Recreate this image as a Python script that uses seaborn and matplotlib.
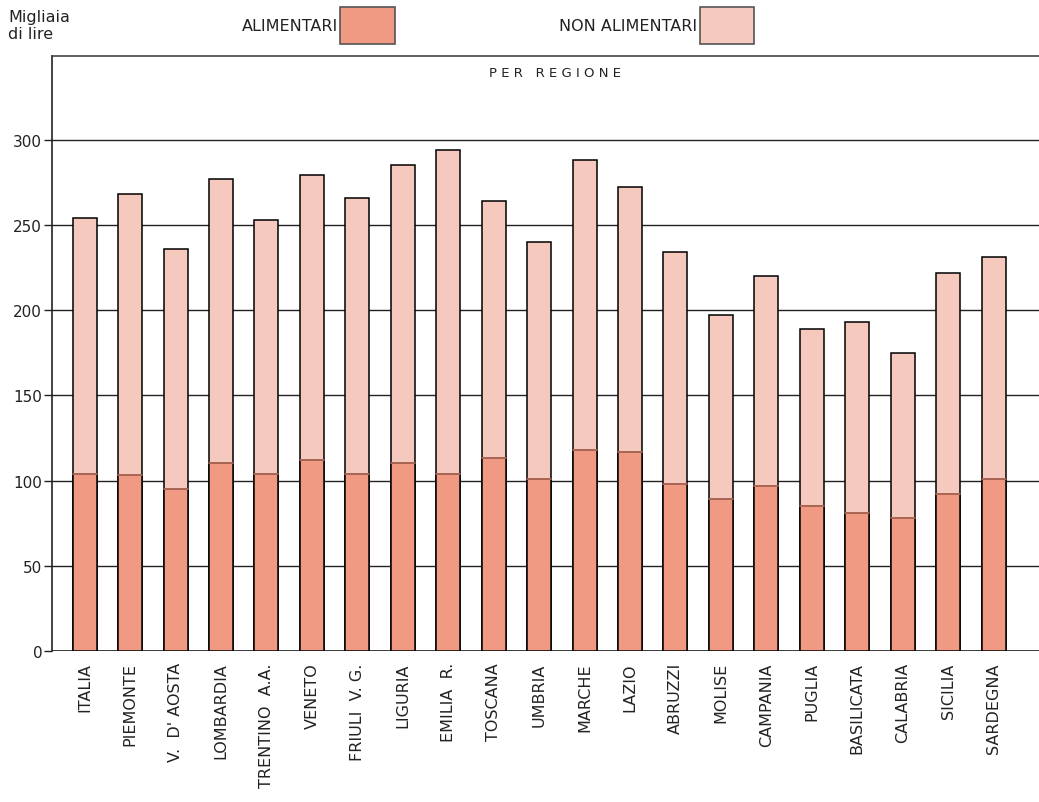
import pandas as pd
import matplotlib
matplotlib.use("Agg")
import matplotlib.pyplot as plt
import seaborn as sns
from matplotlib.patches import Patch

# ==============================================================================
# DATI
# ==============================================================================
regioni = [
    "ITALIA", "PIEMONTE", "V.  D' AOSTA", "LOMBARDIA", "TRENTINO  A.A.",
    "VENETO", "FRIULI  V. G.", "LIGURIA", "EMILIA  R.", "TOSCANA", "UMBRIA",
    "MARCHE", "LAZIO", "ABRUZZI", "MOLISE", "CAMPANIA", "PUGLIA",
    "BASILICATA", "CALABRIA", "SICILIA", "SARDEGNA",
]
totale = [254, 268, 236, 277, 253, 279, 266, 285, 294, 264, 240,
          288, 272, 234, 197, 220, 189, 193, 175, 222, 231]
alimentari = [104, 103, 95, 110, 104, 112, 104, 110, 104, 113, 101,
              118, 117, 98, 89, 97, 85, 81, 78, 92, 101]
y_ticks = [0, 50, 100, 150, 200, 250, 300]

COL_ALIM = "#F09A84"
COL_NON = "#F6C9BE"

# ==============================================================================
# GRAFICO
# ==============================================================================
sns.set_theme(style="white")
plt.rcParams["font.family"] = ["DejaVu Sans"]

df = pd.DataFrame({"Regione": regioni, "Totale": totale, "Alimentari": alimentari})

fig = plt.figure(figsize=(10.39, 8.03), dpi=100)
ax = fig.add_axes([0.05, 0.188, 0.95, 0.741])

# barra intera (non alimentari sopra) e poi la parte alimentare
sns.barplot(data=df, x="Regione", y="Totale", color=COL_NON, width=0.53,
            edgecolor="black", linewidth=1.1, saturation=1, ax=ax)
sns.barplot(data=df, x="Regione", y="Alimentari", color=COL_ALIM, width=0.53,
            edgecolor="black", linewidth=1.1, saturation=1, ax=ax)
# linea di separazione più morbida tra le due parti
for p in ax.patches[len(regioni):]:
    ax.plot([p.get_x(), p.get_x() + p.get_width()], [p.get_height()] * 2,
            color="#C0735F", lw=1.2, zorder=5)

ax.set_xlim(-0.72, 21.0)
ax.set_ylim(0, 349)
ax.set_yticks(y_ticks)
ax.set_axisbelow(True)
ax.yaxis.grid(True, color="#222222", linewidth=1.0)
ax.xaxis.grid(False)

for s in ["right", "bottom"]:
    ax.spines[s].set_visible(False)
ax.spines["left"].set_color("#222222")
ax.spines["top"].set_color("#444444")
ax.spines["left"].set_linewidth(1.2)
ax.spines["top"].set_linewidth(1.2)
ax.axhline(0, color="#222222", lw=1.2, zorder=0)

ax.tick_params(axis="y", length=6, width=1, color="#222222", pad=1,
               labelsize=11, direction="out", left=True)
ax.tick_params(axis="x", length=0, labelsize=11.5, pad=8)
ax.set_xticks(range(len(regioni)))
ax.set_xticklabels(regioni, rotation=90, va="top", ha="center", color="#222222")
for lbl in ax.get_yticklabels():
    lbl.set_color("#222222")
ax.set_xlabel("")
ax.set_ylabel("")

ax.text(0.51, 0.984, "P E R   R E G I O N E", transform=ax.transAxes,
        ha="center", va="top", fontsize=9.5, color="#222222")

fig.text(0.008, 0.987, "Migliaia\ndi lire", ha="left", va="top",
         fontsize=11.5, color="#222222", linespacing=1.1)

handles = [Patch(facecolor=COL_ALIM, edgecolor="#555555", lw=1.2, label="ALIMENTARI"),
           Patch(facecolor=COL_NON, edgecolor="#555555", lw=1.2, label="NON ALIMENTARI")]
fig.legend(handles=handles, loc="upper left", bbox_to_anchor=(0.222, 1.004),
           ncol=2, frameon=False, markerfirst=False, fontsize=11.5,
           handlelength=3.4, handleheight=3.2, handletextpad=0.15,
           columnspacing=10.3, labelcolor="#222222", borderaxespad=0.3)

fig.savefig("out.png", dpi=100, facecolor="white")
